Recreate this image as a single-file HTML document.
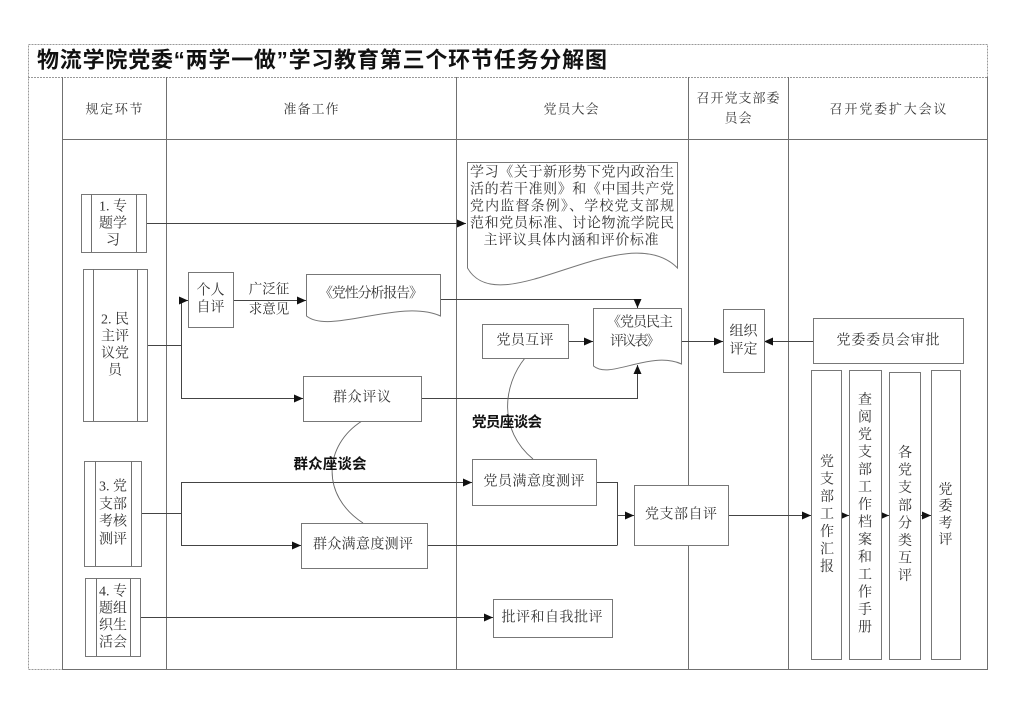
<!DOCTYPE html>
<html><head><meta charset="utf-8">
<style>
html,body{margin:0;padding:0;background:#fff;}
svg{display:block;}
.t{font-family:"Liberation Serif","Noto Serif CJK SC",serif;font-size:14px;fill:#333;}
.h{font-family:"Liberation Serif","Noto Serif CJK SC",serif;font-size:13px;fill:#333;}
.b{font-family:"Liberation Sans","Noto Sans CJK SC",sans-serif;font-size:14.5px;font-weight:bold;fill:#111;}
.ttl{font-family:"Liberation Sans","Noto Sans CJK SC",sans-serif;font-size:22px;font-weight:bold;fill:#111;}
.bx{fill:#fff;stroke:#777;stroke-width:1;}
.ln{fill:none;stroke:#444;stroke-width:1;}
.gl{fill:none;stroke:#707070;stroke-width:1;}
</style></head><body>
<svg width="1024" height="724" viewBox="0 0 1024 724" xmlns="http://www.w3.org/2000/svg">
<defs>
<marker id="a" markerWidth="9" markerHeight="8" refX="9" refY="4" orient="auto" markerUnits="userSpaceOnUse"><path d="M0,0 L9,4 L0,8 z" fill="#111"/></marker>
</defs>
<rect width="1024" height="724" fill="#fff"/>

<!-- frame -->
<rect x="28.5" y="44.5" width="959" height="625" fill="none" stroke="#999" stroke-dasharray="2,1"/>
<path d="M28,77.5 H988" stroke="#999" stroke-dasharray="2,1" fill="none"/>
<path class="gl" d="M62.5,77 V670 M166.5,77 V670 M456.5,77 V670 M688.5,77 V670 M788.5,77 V670 M987.5,77 V670 M62,139.5 H988 M62,669.5 H988"/>

<!-- title -->
<text class="ttl" x="37" y="60" dominant-baseline="central" textLength="570" lengthAdjust="spacing">物流学院党委“两学一做”学习教育第三个环节任务分解图</text>

<!-- headers -->
<text class="h" x="114" y="109" text-anchor="middle" dominant-baseline="central" textLength="57" lengthAdjust="spacing">规定环节</text>
<text class="h" x="311" y="109" text-anchor="middle" dominant-baseline="central" textLength="55" lengthAdjust="spacing">准备工作</text>
<text class="h" x="571" y="109" text-anchor="middle" dominant-baseline="central" textLength="55" lengthAdjust="spacing">党员大会</text>
<text class="h" x="738" y="98" text-anchor="middle" dominant-baseline="central" textLength="83" lengthAdjust="spacing">召开党支部委</text>
<text class="h" x="738" y="118" text-anchor="middle" dominant-baseline="central" textLength="27" lengthAdjust="spacing">员会</text>
<text class="h" x="888" y="109" text-anchor="middle" dominant-baseline="central" textLength="117" lengthAdjust="spacing">召开党委扩大会议</text>

<!-- connectors -->
<path class="ln" d="M146,223.5 H466" marker-end="url(#a)"/>
<path class="ln" d="M147,345.5 H181.5 M181.5,300 V398"/>
<path class="ln" d="M181,300.5 H188" marker-end="url(#a)"/>
<path class="ln" d="M181,398.5 H303" marker-end="url(#a)"/>
<path class="ln" d="M233,300.5 H306" marker-end="url(#a)"/>
<path class="ln" d="M440,299.5 H637.5 V308" marker-end="url(#a)"/>
<path class="ln" d="M421,398.5 H637.5 V365" marker-end="url(#a)"/>
<path class="ln" d="M568,341.5 H593" marker-end="url(#a)"/>
<path class="ln" d="M682,341.5 H723" marker-end="url(#a)"/>
<path class="ln" d="M813,341.5 H764" marker-end="url(#a)"/>
<path class="ln" d="M141,513.5 H181.5 M181.5,482 V545"/>
<path class="ln" d="M181,482.5 H472" marker-end="url(#a)"/>
<path class="ln" d="M181,545.5 H301" marker-end="url(#a)"/>
<path class="ln" d="M596,482.5 H617.5 V545 M427,545.5 H617.5"/>
<path class="ln" d="M617,515.5 H634" marker-end="url(#a)"/>
<path class="ln" d="M728,515.5 H811" marker-end="url(#a)"/>
<path class="ln" d="M842,515.5 H849" marker-end="url(#a)"/>
<path class="ln" d="M881,515.5 H889" marker-end="url(#a)"/>
<path class="ln" d="M920,515.5 H931" marker-end="url(#a)"/>
<path class="ln" d="M140,617.5 H493" marker-end="url(#a)"/>

<!-- curves -->
<path d="M525,358 C 503,385 498,430 533,459" fill="none" stroke="#666" stroke-width="0.9"/>
<path d="M362,421 C 324,445 320,495 363,523" fill="none" stroke="#666" stroke-width="0.9"/>

<!-- predefined process boxes -->
<rect class="bx" x="81.5" y="194.5" width="65" height="58"/>
<path class="gl" d="M91.5,194 V252 M136.5,194 V252"/>
<rect class="bx" x="83.5" y="269.5" width="64" height="152"/>
<path class="gl" d="M93.5,269 V421 M137.5,269 V421"/>
<rect class="bx" x="84.5" y="461.5" width="57" height="105"/>
<path class="gl" d="M95.5,461 V566 M131.5,461 V566"/>
<rect class="bx" x="85.5" y="578.5" width="55" height="78"/>
<path class="gl" d="M96.5,578 V656 M130.5,578 V656"/>

<text class="t" x="113" y="207" text-anchor="middle" dominant-baseline="central">1. 专</text>
<text class="t" x="113" y="224" text-anchor="middle" dominant-baseline="central">题学</text>
<text class="t" x="113" y="241" text-anchor="middle" dominant-baseline="central">习</text>

<text class="t" x="115" y="320" text-anchor="middle" dominant-baseline="central">2. 民</text>
<text class="t" x="115" y="337" text-anchor="middle" dominant-baseline="central">主评</text>
<text class="t" x="115" y="354" text-anchor="middle" dominant-baseline="central">议党</text>
<text class="t" x="115" y="371" text-anchor="middle" dominant-baseline="central">员</text>

<text class="t" x="113" y="487" text-anchor="middle" dominant-baseline="central">3. 党</text>
<text class="t" x="113" y="505" text-anchor="middle" dominant-baseline="central">支部</text>
<text class="t" x="113" y="522" text-anchor="middle" dominant-baseline="central">考核</text>
<text class="t" x="113" y="540" text-anchor="middle" dominant-baseline="central">测评</text>

<text class="t" x="113" y="592" text-anchor="middle" dominant-baseline="central">4. 专</text>
<text class="t" x="113" y="609" text-anchor="middle" dominant-baseline="central">题组</text>
<text class="t" x="113" y="626" text-anchor="middle" dominant-baseline="central">织生</text>
<text class="t" x="113" y="643" text-anchor="middle" dominant-baseline="central">活会</text>

<!-- process boxes -->
<rect class="bx" x="188.5" y="272.5" width="45" height="55"/>
<text class="t" x="210.5" y="291" text-anchor="middle" dominant-baseline="central">个人</text>
<text class="t" x="210.5" y="308" text-anchor="middle" dominant-baseline="central">自评</text>

<text class="t" x="269" y="289" text-anchor="middle" dominant-baseline="central" style="font-size:13.5px">广泛征</text>
<text class="t" x="269" y="309" text-anchor="middle" dominant-baseline="central" style="font-size:13.5px">求意见</text>

<rect class="bx" x="303.5" y="376.5" width="118" height="45"/>
<text class="t" x="362" y="398" text-anchor="middle" dominant-baseline="central" textLength="58" lengthAdjust="spacing">群众评议</text>

<rect class="bx" x="482.5" y="324.5" width="86" height="34"/>
<text class="t" x="525" y="341" text-anchor="middle" dominant-baseline="central" textLength="57" lengthAdjust="spacing">党员互评</text>

<rect class="bx" x="723.5" y="309.5" width="41" height="63"/>
<text class="t" x="743.5" y="332" text-anchor="middle" dominant-baseline="central">组织</text>
<text class="t" x="743.5" y="350" text-anchor="middle" dominant-baseline="central">评定</text>

<rect class="bx" x="813.5" y="318.5" width="150" height="45"/>
<text class="t" x="888" y="341" text-anchor="middle" dominant-baseline="central" textLength="103" lengthAdjust="spacing">党委委员会审批</text>

<rect class="bx" x="472.5" y="459.5" width="124" height="46"/>
<text class="t" x="534" y="482" text-anchor="middle" dominant-baseline="central" textLength="101" lengthAdjust="spacing">党员满意度测评</text>

<rect class="bx" x="301.5" y="523.5" width="126" height="45"/>
<text class="t" x="363" y="545" text-anchor="middle" dominant-baseline="central" textLength="100" lengthAdjust="spacing">群众满意度测评</text>

<rect class="bx" x="634.5" y="485.5" width="94" height="60"/>
<text class="t" x="681" y="515" text-anchor="middle" dominant-baseline="central" textLength="72" lengthAdjust="spacing">党支部自评</text>

<rect class="bx" x="493.5" y="599.5" width="119" height="38"/>
<text class="t" x="552" y="618" text-anchor="middle" dominant-baseline="central" textLength="101" lengthAdjust="spacing">批评和自我批评</text>

<!-- documents -->
<path class="bx" d="M467.5,162.5 H677.5 V268 C 625,215 500,325 467.5,268 Z"/>
<text class="t" x="572" y="173" text-anchor="middle" dominant-baseline="central" textLength="204" lengthAdjust="spacing">学习《关于新形势下党内政治生</text>
<text class="t" x="572" y="190" text-anchor="middle" dominant-baseline="central" textLength="204" lengthAdjust="spacing">活的若干准则》和《中国共产党</text>
<text class="t" x="572" y="207" text-anchor="middle" dominant-baseline="central" textLength="204" lengthAdjust="spacing">党内监督条例》、学校党支部规</text>
<text class="t" x="572" y="224" text-anchor="middle" dominant-baseline="central" textLength="204" lengthAdjust="spacing">范和党员标准、讨论物流学院民</text>
<text class="t" x="571" y="241" text-anchor="middle" dominant-baseline="central" textLength="175" lengthAdjust="spacing">主评议具体内涵和评价标准</text>

<path class="bx" d="M306.5,274.5 H440.5 V316 C 400,298 330,335 306.5,316 Z"/>
<text class="t" x="371" y="294" text-anchor="middle" dominant-baseline="central" textLength="104" lengthAdjust="spacing">《党性分析报告》</text>

<path class="bx" d="M593.5,308.5 H681.5 V364 C 650,350 610,380 593.5,366 Z"/>
<text class="t" x="640" y="323" text-anchor="middle" dominant-baseline="central" textLength="66" lengthAdjust="spacing">《党员民主</text>
<text class="t" x="635" y="342" text-anchor="middle" dominant-baseline="central" textLength="50" lengthAdjust="spacing">评议表》</text>

<!-- bold labels -->
<text class="b" x="507" y="423" text-anchor="middle" dominant-baseline="central" textLength="70" lengthAdjust="spacing">党员座谈会</text>
<text class="b" x="330" y="465" text-anchor="middle" dominant-baseline="central" textLength="73" lengthAdjust="spacing">群众座谈会</text>

<!-- vertical boxes -->
<rect class="bx" x="811.5" y="370.5" width="30" height="289"/>
<rect class="bx" x="849.5" y="370.5" width="32" height="289"/>
<rect class="bx" x="889.5" y="372.5" width="31" height="287"/>
<rect class="bx" x="931.5" y="370.5" width="29" height="289"/>

<text class="t" x="827" text-anchor="middle" dominant-baseline="central">
<tspan x="827" y="462">党</tspan><tspan x="827" y="479.5">支</tspan><tspan x="827" y="497">部</tspan><tspan x="827" y="514.5">工</tspan><tspan x="827" y="532">作</tspan><tspan x="827" y="549.5">汇</tspan><tspan x="827" y="567">报</tspan>
</text>
<text class="t" x="865" text-anchor="middle" dominant-baseline="central">
<tspan x="865" y="400">查</tspan><tspan x="865" y="417.5">阅</tspan><tspan x="865" y="435">党</tspan><tspan x="865" y="452.5">支</tspan><tspan x="865" y="470">部</tspan><tspan x="865" y="487.5">工</tspan><tspan x="865" y="505">作</tspan><tspan x="865" y="522.5">档</tspan><tspan x="865" y="540">案</tspan><tspan x="865" y="557.5">和</tspan><tspan x="865" y="575">工</tspan><tspan x="865" y="592.5">作</tspan><tspan x="865" y="610">手</tspan><tspan x="865" y="627.5">册</tspan>
</text>
<text class="t" x="905" text-anchor="middle" dominant-baseline="central">
<tspan x="905" y="453">各</tspan><tspan x="905" y="470.6">党</tspan><tspan x="905" y="488.2">支</tspan><tspan x="905" y="505.8">部</tspan><tspan x="905" y="523.4">分</tspan><tspan x="905" y="541">类</tspan><tspan x="905" y="558.6">互</tspan><tspan x="905" y="576.2">评</tspan>
</text>
<text class="t" x="945.5" text-anchor="middle" dominant-baseline="central">
<tspan x="945.5" y="490">党</tspan><tspan x="945.5" y="506.7">委</tspan><tspan x="945.5" y="523.4">考</tspan><tspan x="945.5" y="540">评</tspan>
</text>

</svg>
</body></html>
